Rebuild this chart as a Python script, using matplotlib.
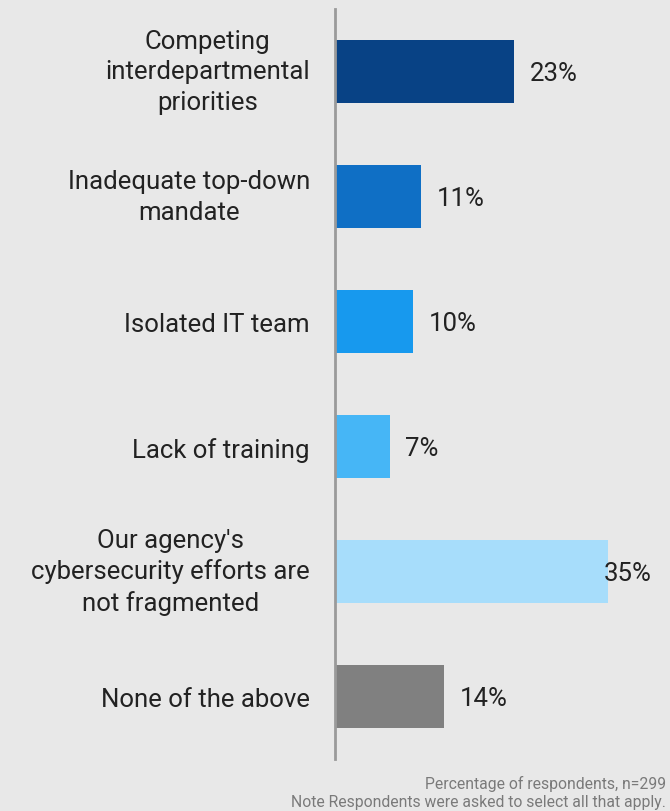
import matplotlib
matplotlib.use("Agg")
import matplotlib.pyplot as plt
from matplotlib.transforms import offset_copy

plt.rcParams['font.family'] = ['Roboto', 'DejaVu Sans']

categories = [
    "Competing\ninterdepartmental\npriorities",
    "Inadequate top-down\nmandate",
    "Isolated IT team",
    "Lack of training",
    "Our agency's\ncybersecurity efforts are\nnot fragmented",
    "None of the above",
]
values = [23, 11, 10, 7, 35, 14]
colors = ["#084285", "#0f6fc5", "#1799ee", "#46b6f6", "#a7ddfb", "#808080"]
value_labels = ["23%", "11%", "10%", "7%", "35%", "14%"]
footnote = ["Percentage of respondents, n=299",
            "Note Respondents were asked to select all that apply."]

bg = "#e8e8e8"
fig = plt.figure(figsize=(6.70, 8.12), dpi=100, facecolor=bg)
ax = fig.add_axes([335 / 670, 52 / 812, 327 / 670, 750 / 812], facecolor=bg)

ypos = list(range(len(categories)))
ax.barh(ypos, values, height=0.5, color=colors, zorder=2)
ax.set_ylim(len(categories) - 0.5, -0.5)
ax.set_xlim(0, 42)

for s in ["top", "right", "bottom"]:
    ax.spines[s].set_visible(False)
ax.spines["left"].set_color("#9a9a9a")
ax.spines["left"].set_linewidth(2)
ax.set_xticks([])
ax.set_yticks([])

# category labels, right-aligned against the axis line
for y, cat in zip(ypos, categories):
    lift = 0 if "\n" in cat else -3
    tr = offset_copy(ax.get_yaxis_transform(), fig=fig, x=-25, y=lift,
                     units="dots")
    ax.text(0, y, cat, transform=tr, ha="right", va="center",
            multialignment="center", linespacing=1.33, fontsize=18.5,
            color="#222222")

for y, v, lab in zip(ypos, values, value_labels):
    x = min(v + 2.05, 34.5)
    ax.text(x, y + 0.015, lab, ha="left", va="center", fontsize=18.5,
            color="#222222")

fig.text(666 / 670, 1 - 784 / 812, footnote[0], ha="right", va="center",
         fontsize=11.3, color="#7a7a7a")
fig.text(666 / 670, 1 - 803 / 812, footnote[1], ha="right", va="center",
         fontsize=11.3, color="#7a7a7a")

fig.savefig("out.png", dpi=100, facecolor=bg)
